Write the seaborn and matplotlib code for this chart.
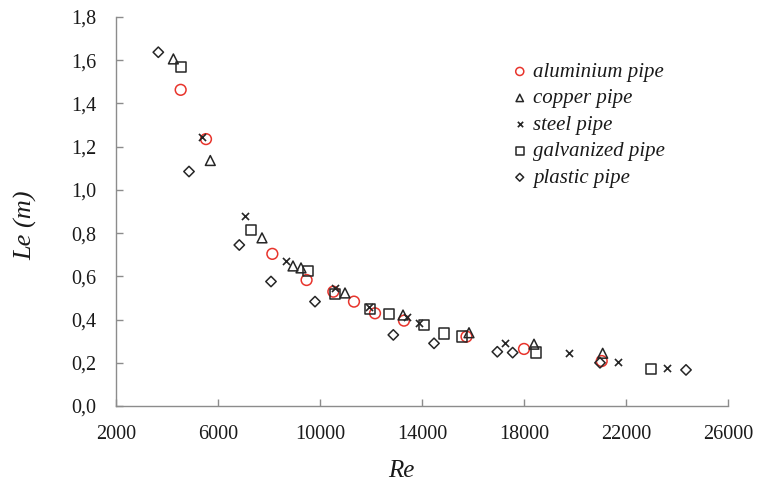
import matplotlib
matplotlib.use("Agg")
import matplotlib.pyplot as plt
import seaborn as sns
import pandas as pd

# ---- data ----
al_re = [4536, 5529, 8131, 9474, 10523, 11333, 12157, 13294, 15745, 18000, 21047]
al_le = [1.463, 1.235, 0.704, 0.583, 0.529, 0.483, 0.429, 0.395, 0.321, 0.264, 0.208]

cu_re = [4250, 5698, 7725, 8941, 9255, 10980, 13255, 15843, 18392, 21086]
cu_le = [1.606, 1.136, 0.778, 0.648, 0.639, 0.523, 0.421, 0.339, 0.286, 0.244]

st_re = [5361, 7059, 8667, 10588, 11933, 13399, 13882, 17255, 19765, 21698, 23594]
st_le = [1.244, 0.880, 0.671, 0.545, 0.460, 0.411, 0.383, 0.290, 0.244, 0.205, 0.174]

ga_re = [4536, 7282, 9543, 10588, 11961, 12718, 14090, 14875, 15556, 18471, 22967]
ga_le = [1.568, 0.813, 0.625, 0.519, 0.448, 0.426, 0.375, 0.335, 0.321, 0.247, 0.171]

pl_re = [3659, 4863, 6835, 8078, 9804, 12875, 14471, 16953, 17555, 20980, 24353]
pl_le = [1.637, 1.085, 0.745, 0.576, 0.483, 0.329, 0.290, 0.251, 0.247, 0.200, 0.167]

series_names = ["aluminium pipe", "copper pipe", "steel pipe", "galvanized pipe", "plastic pipe"]
x_ticks = [2000, 6000, 10000, 14000, 18000, 22000, 26000]
y_ticks = [0.0, 0.2, 0.4, 0.6, 0.8, 1.0, 1.2, 1.4, 1.6, 1.8]
y_tick_labels = ["0,0", "0,2", "0,4", "0,6", "0,8", "1,0", "1,2", "1,4", "1,6", "1,8"]

sns.set_theme(style="white")
plt.rcParams["font.family"] = ["Liberation Serif", "DejaVu Serif"]

fig = plt.figure(figsize=(7.57, 4.90), dpi=100)
ax = fig.add_axes([116/757, 1 - 406/490, (728 - 116)/757, (406 - 17)/490])

RED = "#e8342c"
BLK = "#262626"
styles = [
    (al_re, al_le, "o", 60, RED, True),
    (cu_re, cu_le, "^", 50, BLK, True),
    (st_re, st_le, "x", 26, BLK, False),
    (ga_re, ga_le, "s", 55, BLK, True),
    (pl_re, pl_le, "D", 28, BLK, True),
]

for (xs, ys, m, s, c, filled), name in zip(styles, series_names):
    df = pd.DataFrame({"Re": xs, "Le": ys})
    if filled:
        sns.scatterplot(data=df, x="Re", y="Le", marker=m, s=s, facecolor="none",
                        edgecolor=c, linewidth=1.1, ax=ax, label=name, zorder=3)
    else:
        sns.scatterplot(data=df, x="Re", y="Le", marker=m, s=s, color=c,
                        linewidth=1.2, ax=ax, label=name, zorder=3)

ax.set_xlim(2000, 26000)
ax.set_ylim(0, 1.8)
ax.set_xticks(x_ticks)
ax.set_xticklabels([str(v) for v in x_ticks])
ax.set_yticks(y_ticks)
ax.set_yticklabels(y_tick_labels)

for sp in ["top", "right"]:
    ax.spines[sp].set_visible(False)
for sp in ["left", "bottom"]:
    ax.spines[sp].set_color("#8c8c8c")
    ax.spines[sp].set_linewidth(1.0)

ax.tick_params(axis="both", direction="in", length=5, width=1.0, color="#8c8c8c",
               labelsize=14.5, labelcolor="#1a1a1a", pad=14,
               bottom=True, left=True)

ax.set_xlabel("")
ax.set_ylabel("")
fig.text(401/757, 1 - 471/490, "Re", fontsize=18, style="italic",
         ha="center", va="center", color="#1a1a1a")
fig.text(26/757, 1 - 225/490, "Le (m)", fontsize=19, style="italic",
         rotation=90, ha="center", va="center", color="#1a1a1a")

leg = ax.legend(loc="upper left", bbox_to_anchor=(501/757, 1 - 54/490),
                bbox_transform=fig.transFigure, frameon=False, markerscale=0.75,
                handletextpad=0.15, labelspacing=0.33, borderaxespad=0,
                handlelength=1.0,
                prop={"family": "Liberation Serif", "style": "italic", "size": 15})
for t in leg.get_texts():
    t.set_color("#1a1a1a")

fig.savefig("out.png", dpi=100)
